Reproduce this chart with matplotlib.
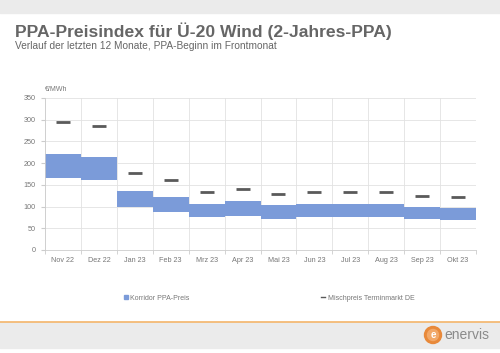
import matplotlib.pyplot as plt
from matplotlib.lines import Line2D
from matplotlib.patches import Rectangle, Circle, Patch

plt.rcParams['font.family'] = ['Liberation Sans', 'DejaVu Sans']

months = ["Nov 22", "Dez 22", "Jan 23", "Feb 23", "Mrz 23", "Apr 23",
          "Mai 23", "Jun 23", "Jul 23", "Aug 23", "Sep 23", "Okt 23"]
corridor_low = [166, 161, 100, 88, 75, 78, 72, 75, 75, 75, 71, 68]
corridor_high = [222, 215, 137, 122, 107, 112, 103, 107, 107, 107, 99, 97]
mix_price = [294, 286, 178, 161, 134, 140, 129, 133, 134, 134, 125, 122]
yticks = [0, 50, 100, 150, 200, 250, 300, 350]

fig = plt.figure(figsize=(5, 3.53), dpi=100)
fig.patch.set_facecolor('white')

# header / footer bands
fig.add_artist(Rectangle((0, 1 - 13/353), 1, 13/353, transform=fig.transFigure,
                         color='#ebebeb', zorder=0))
fig.add_artist(Rectangle((0, 5/353), 1, 26/353, transform=fig.transFigure,
                         color='#ebebeb', zorder=0))
fig.add_artist(Line2D([0, 1], [1 - 322/353] * 2, transform=fig.transFigure,
                      color='#f4b56a', lw=1.2))
# logo
fig.add_artist(Circle((4.33, 0.18), 0.085, transform=fig.dpi_scale_trans,
                      color='#e8893a', zorder=2))
fig.add_artist(Circle((4.33, 0.18), 0.055, transform=fig.dpi_scale_trans,
                      color='#f2a868', zorder=2))
fig.text(4.33/5, 0.18/3.53, 'e', color='white', fontsize=7, fontweight='bold',
         ha='center', va='center')
fig.text(444/500, 0.18/3.53, 'enervis', color='#8a8a8a', fontsize=10,
         ha='left', va='center')

fig.text(15/500, 1 - 31/353, 'PPA-Preisindex für Ü-20 Wind (2-Jahres-PPA)',
         fontsize=12.6, fontweight='bold', color='#666666', va='center')
fig.text(15/500, 1 - 46/353, 'Verlauf der letzten 12 Monate, PPA-Beginn im Frontmonat',
         fontsize=7.3, color='#666666', va='center')

ax = fig.add_axes([45/500, 1 - 250/353, 431/500, 152/353])
x = list(range(len(months)))
heights = [h - l for h, l in zip(corridor_high, corridor_low)]
ax.bar(x, heights, bottom=corridor_low, width=1.0, color='#7b9bd9', zorder=2)
ax.plot(x, mix_price, linestyle='none', marker='_', markersize=9.5, mew=2,
        color='#5a5a5a', zorder=3)

ax.set_xlim(-0.5, 11.5)
ax.set_ylim(0, 350)
ax.set_yticks(yticks)
ax.set_xticks(x)
ax.set_xticklabels(months)
ax.set_xticks([i - 0.5 for i in range(13)], minor=True)
ax.tick_params(axis='x', which='major', length=0, labelsize=5.2, colors='#777777', pad=5)
ax.tick_params(axis='x', which='minor', length=3, color='#cccccc')
ax.tick_params(axis='y', length=3, color='#cccccc', labelsize=5.2, labelcolor='#777777')
ax.grid(True, axis='y', color='#e2e2e2', lw=0.6, zorder=0)
ax.grid(True, axis='x', which='minor', color='#e2e2e2', lw=0.6, zorder=0)
for s in ['top', 'right']:
    ax.spines[s].set_visible(False)
for s in ['left', 'bottom']:
    ax.spines[s].set_color('#cccccc')
    ax.spines[s].set_linewidth(0.6)
ax.text(0, 1.035, '€/MWh', transform=ax.transAxes, fontsize=5, color='#777777',
        ha='left', va='bottom')

h1 = Patch(color='#7b9bd9', label='Korridor PPA-Preis')
h2 = Line2D([], [], color='#5a5a5a', lw=1, label='Mischpreis Terminmarkt DE')
fig.legend(handles=[h1], loc='center left', bbox_to_anchor=(118/500, 1 - 298/353),
           frameon=False, fontsize=5, handlelength=0.6, handleheight=0.6,
           handletextpad=0.3, labelcolor='#777777')
fig.legend(handles=[h2], loc='center left', bbox_to_anchor=(315/500, 1 - 298/353),
           frameon=False, fontsize=5, handlelength=0.6, handletextpad=0.3,
           labelcolor='#777777')

fig.savefig('out.png', dpi=100)
